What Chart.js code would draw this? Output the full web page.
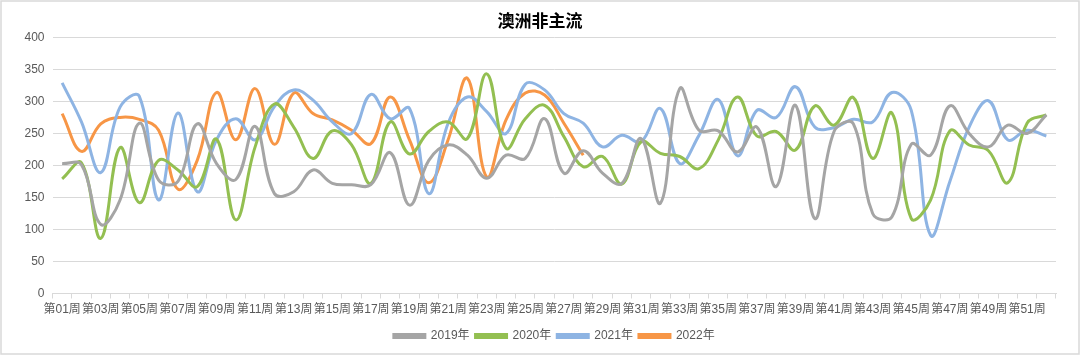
<!DOCTYPE html>
<html>
<head>
<meta charset="utf-8">
<script src="https://cdn.jsdelivr.net/npm/chart.js@4"></script>
<style>
  html, body { margin: 0; padding: 0; background: #ffffff; }
  #wrap { width: 1080px; height: 355px; position: relative; }
</style>
</head>
<body>
<div id="wrap"><canvas id="c" width="1080" height="355"></canvas></div>
<script>
const weeks = ["第01周","第02周","第03周","第04周","第05周","第06周","第07周","第08周","第09周","第10周",
  "第11周","第12周","第13周","第14周","第15周","第16周","第17周","第18周","第19周","第20周",
  "第21周","第22周","第23周","第24周","第25周","第26周","第27周","第28周","第29周","第30周",
  "第31周","第32周","第33周","第34周","第35周","第36周","第37周","第38周","第39周","第40周",
  "第41周","第42周","第43周","第44周","第45周","第46周","第47周","第48周","第49周","第50周",
  "第51周","第52周"];
const seriesNames = ["2019年", "2020年", "2021年", "2022年"];
const v2019 = [203,201,108,146,266,177,175,265,203,178,261,156,159,193,172,170,
  170,220,138,208,232,216,180,216,211,273,188,223,188,172,242,141,320,255,
  254,221,260,167,294,117,253,265,125,120,233,216,293,250,229,263,250,279];
const v2020 = [179,204,86,228,142,208,193,167,241,115,229,296,260,211,254,232,
  172,268,218,253,268,242,343,227,273,294,245,198,214,171,237,219,214,195,
  240,307,246,253,224,293,263,306,211,282,117,146,254,232,223,173,266,279];
const v2021 = [329,268,189,291,308,146,282,159,240,273,240,292,318,302,268,250,
  311,273,289,156,266,307,284,250,327,318,281,266,229,247,237,289,203,247,
  303,215,286,275,323,260,259,272,268,314,286,91,175,260,301,240,255,246];
const v2022 = [281,222,265,275,272,255,163,208,314,240,320,233,313,281,271,255,
  234,307,240,173,240,336,182,271,313,310,266,216];
const yTicks = { min: 0, max: 400, step: 50 };

const colors = ["#a5a5a5", "#93bf51", "#8eb4e3", "#f79646"];
const font = '"Liberation Sans", "Noto Sans CJK SC", sans-serif';
const textColor = "#595959";
const gridColor = "#d9d9d9";

function ds(label, data, color) {
  return {
    label: label, data: data, borderColor: color, backgroundColor: color,
    borderWidth: 3, pointRadius: 0, pointHoverRadius: 0, tension: 0.4, fill: false
  };
}

const borderPlugin = {
  id: "outerBorder",
  beforeDraw(chart) {
    const ctx = chart.ctx;
    ctx.save();
    ctx.fillStyle = "#ffffff";
    ctx.fillRect(0, 0, chart.width, chart.height);
    ctx.strokeStyle = "#d9d9d9";
    ctx.lineWidth = 1.5;
    ctx.strokeRect(1, 1, chart.width - 2, chart.height - 2);
    ctx.restore();
  }
};

new Chart(document.getElementById("c"), {
  type: "line",
  data: {
    labels: weeks,
    datasets: [
      ds(seriesNames[0], v2019, colors[0]),
      ds(seriesNames[1], v2020, colors[1]),
      ds(seriesNames[2], v2021, colors[2]),
      ds(seriesNames[3], v2022, colors[3])
    ]
  },
  options: {
    responsive: false,
    animation: false,
    layout: { padding: { left: 0, right: 0, top: 0, bottom: 3 } },
    plugins: {
      title: {
        display: true, text: "澳洲非主流", color: "#000000",
        font: { family: font, size: 17, weight: "bold" },
        padding: { top: 12, bottom: 5 }
      },
      legend: {
        position: "bottom",
        fullSize: false,
        labels: {
          color: textColor, font: { family: font, size: 12 },
          boxWidth: 31, boxHeight: 3, padding: 6
        }
      },
      tooltip: { enabled: false }
    },
    scales: {
      x: {
        type: "category",
        offset: true,
        grid: { display: true, drawOnChartArea: false, drawTicks: true, tickLength: 5, color: gridColor, offset: true },
        border: { display: true, color: gridColor, width: 1 },
        ticks: {
          autoSkip: false, maxRotation: 0, minRotation: 0, padding: 4,
          color: textColor, font: { family: font, size: 12 },
          callback: function(val, idx) { return idx % 2 === 0 ? weeks[idx] : ""; }
        },
        afterFit: function(s) { s.height = 30.5; }
      },
      y: {
        min: yTicks.min, max: yTicks.max,
        grid: { color: gridColor, drawTicks: false },
        border: { display: false },
        ticks: { stepSize: yTicks.step, padding: 8, color: textColor, font: { family: font, size: 12 } },
        afterFit: function(s) { s.width = 52.5; }
      },
      yRight: {
        position: "right", display: true,
        min: yTicks.min, max: yTicks.max,
        grid: { display: false, drawTicks: false },
        border: { display: false },
        ticks: { display: false },
        afterFit: function(s) { s.width = 24; }
      }
    }
  },
  plugins: [borderPlugin]
});
</script>
</body>
</html>
